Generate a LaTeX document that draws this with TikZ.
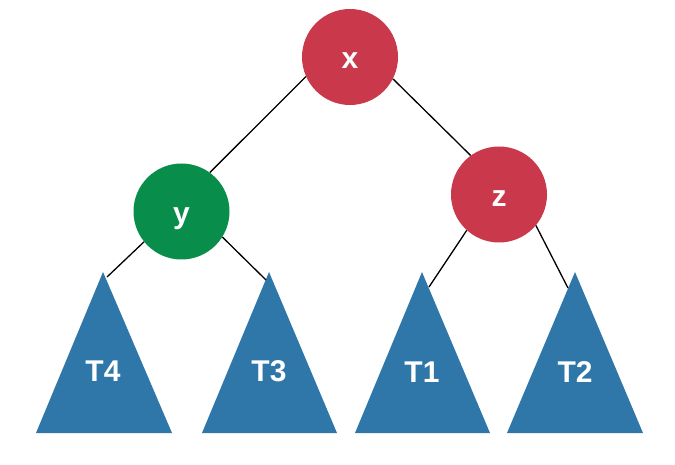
\documentclass[tikz,border=0pt]{standalone}
\usepackage{fontspec}
\setmainfont{Liberation Sans}
\definecolor{nodered}{RGB}{201,57,75}
\definecolor{nodegreen}{RGB}{8,142,74}
\definecolor{treeblue}{RGB}{47,119,168}
\begin{document}
\begin{tikzpicture}[x=1pt,y=-1pt,
  circ/.style={circle, minimum size=96pt, inner sep=0pt, text=white,
    text height=24pt, text depth=0pt, font=\bfseries\fontsize{30}{30}\selectfont},
  tri/.style={fill=treeblue},
  lbl/.style={text=white, inner sep=0pt, font=\bfseries\fontsize{30}{30}\selectfont},
  edge/.style={line width=1.3pt, black}]
\useasboundingbox (0,0) rectangle (675,465);
% subtrees
\fill[tri] (103,272) -- (172,433) -- (36,433) -- cycle;
\fill[tri] (269,272) -- (337,433) -- (202,433) -- cycle;
\fill[tri] (422,272) -- (490,433) -- (355,433) -- cycle;
\fill[tri] (575,272) -- (643,433) -- (507,433) -- cycle;
\node[lbl] (T4) at (103,371) {T4};
\node[lbl] (T3) at (269,371) {T3};
\node[lbl] (T1) at (422,372) {T1};
\node[lbl] (T2) at (575,372) {T2};
\coordinate (t4top) at (107,277);
\coordinate (t3top) at (266,280);
\coordinate (t1top) at (429,287);
\coordinate (t2top) at (568,288);
% nodes
\node[circ, fill=nodered] (x) at (350,57) {x};
\node[circ, fill=nodegreen] (y) at (181.5,211.5) {y};
\node[circ, fill=nodered] (z) at (499,194.5) {z};
% edges
\draw[edge] (x.204) -- (y.54);
\draw[edge] (x.-27) -- (z.126);
\draw[edge] (y.219) -- (t4top);
\draw[edge] (y.-32) -- (t3top);
\draw[edge] (z.228) -- (t1top);
\draw[edge] (z.-40) -- (t2top);
\end{tikzpicture}
\end{document}
